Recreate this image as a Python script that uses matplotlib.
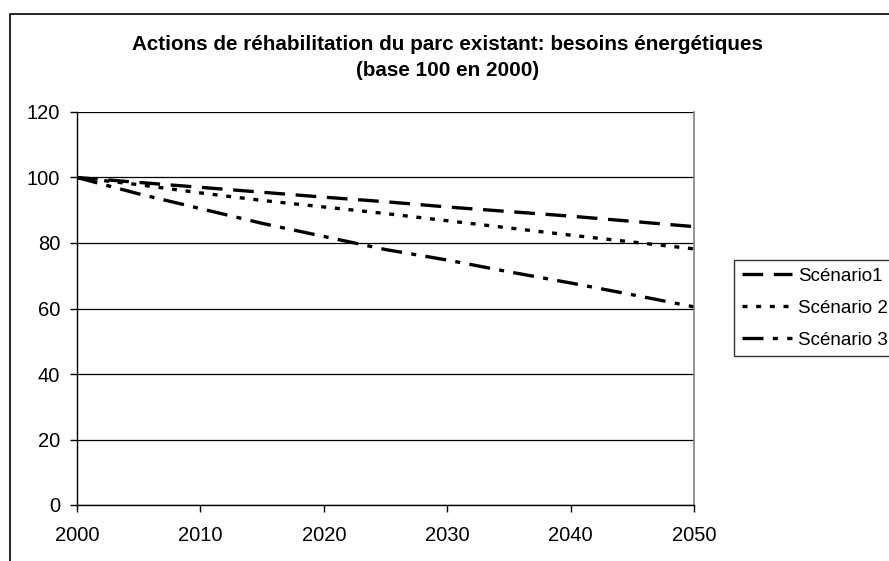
import matplotlib
matplotlib.use("Agg")
import matplotlib.pyplot as plt
from matplotlib.patches import Rectangle

plt.rcParams['font.family'] = ['Liberation Sans', 'DejaVu Sans']

# data (base 100 in 2000)
years = [2000, 2005, 2010, 2015, 2020, 2025, 2030, 2035, 2040, 2045, 2050]
scenario1 = [100, 98.5, 97, 95.5, 94, 92.6, 91, 89.6, 88.2, 86.6, 85]
scenario2 = [100, 97.8, 95.3, 93, 91, 89, 86.8, 84.6, 82.4, 80.3, 78.2]
scenario3 = [100, 95, 90.5, 86, 82, 78, 74.8, 71.2, 67.8, 64.2, 60.5]
labels = ["Scénario1", "Scénario 2", "Scénario 3"]
x_ticks = [2000, 2010, 2020, 2030, 2040, 2050]
y_ticks = [0, 20, 40, 60, 80, 100, 120]

fig = plt.figure(figsize=(8.89, 5.61), dpi=100)
ax = fig.add_axes([77 / 889, 1 - 505 / 561, (694 - 77) / 889, (505 - 112) / 561])

# outer chart frame (right and bottom edges fall outside the picture)
fig.patches.append(Rectangle((10 / 889, -0.2), 2, 1.2 - 14 / 561, transform=fig.transFigure,
                             fill=False, edgecolor="black", lw=1.2))

lw = 2.4
ax.plot(years, scenario1, color="black", lw=lw, linestyle=(0, (6.2, 3.2)), label=labels[0])
ax.plot(years, scenario2, color="black", lw=lw, linestyle=(0, (1.5, 2.6)), label=labels[1])
ax.plot(years, scenario3, color="black", lw=lw, linestyle=(0, (6.3, 2.8, 1.5, 2.8)), label=labels[2])

ax.set_xlim(2000, 2050)
ax.set_ylim(0, 120)
ax.set_xticks(x_ticks)
ax.set_yticks(y_ticks)
ax.yaxis.grid(True, color="black", lw=0.9)
ax.set_axisbelow(True)
ax.tick_params(labelsize=14.5, length=5, width=1, color="black")
ax.tick_params(axis="y", pad=7)
ax.tick_params(axis="x", pad=10)
ax.spines["top"].set_visible(False)
ax.spines["right"].set_color("#808080")
ax.spines["right"].set_linewidth(1.2)
ax.spines["left"].set_linewidth(1)
ax.spines["bottom"].set_linewidth(1)

fig.text(448 / 889, 1 - 45 / 561, "Actions de réhabilitation du parc existant: besoins énergétiques",
         ha="center", va="center", fontsize=14.9, fontweight="bold")
fig.text(448 / 889, 1 - 71 / 561, "(base 100 en 2000)",
         ha="center", va="center", fontsize=14.9, fontweight="bold")

leg = fig.legend(loc="upper left", bbox_to_anchor=(734 / 889, 1 - 260 / 561),
                 fontsize=13.5, frameon=True, fancybox=False, handlelength=2.67,
                 handletextpad=0.37, borderpad=0.4, labelspacing=0.8, borderaxespad=0)
leg.get_frame().set_edgecolor("black")
leg.get_frame().set_linewidth(1)

fig.savefig("out.png", dpi=100)
